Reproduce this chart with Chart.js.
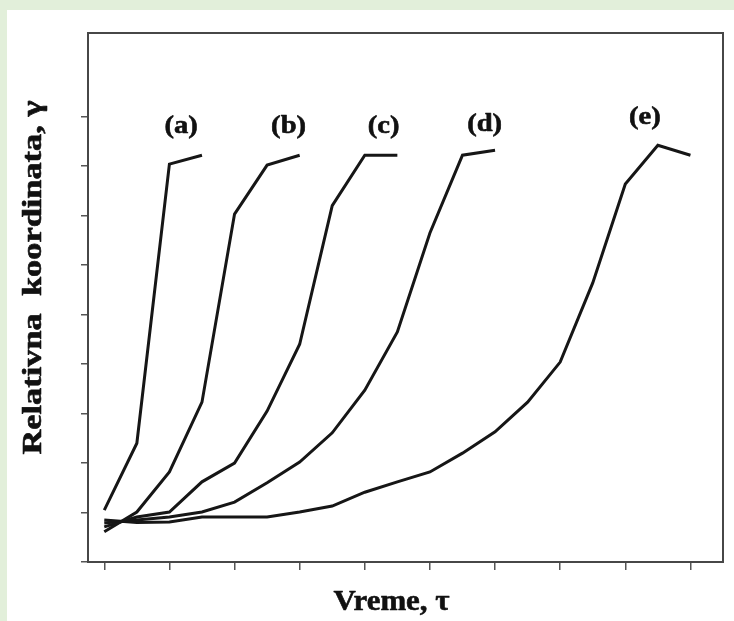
<!DOCTYPE html>
<html>
<head>
<meta charset="utf-8">
<script src="https://cdn.jsdelivr.net/npm/chart.js@4/dist/chart.umd.min.js"></script>
<style>
  html, body { margin: 0; padding: 0; background: #e2efda; width: 734px; height: 621px; overflow: hidden; }
  #panel { position: absolute; left: 7px; top: 10px; width: 727px; height: 611px; background: #ffffff; }
  canvas { display: block; }
</style>
</head>
<body>
<div id="panel"><canvas id="c" width="727" height="611"></canvas></div>
<script>
// ---- data ----
const xA = [0, 0.5, 1, 1.5];
const yA = [1.05, 2.40, 8.04, 8.22];

const xB = [0, 0.5, 1, 1.5, 2, 2.5, 3];
const yB = [0.61, 1.01, 1.82, 3.23, 7.03, 8.02, 8.22];

const xC = [0, 0.5, 1, 1.5, 2, 2.5, 3, 3.5, 4, 4.5];
const yC = [0.71, 0.91, 1.01, 1.62, 2.00, 3.05, 4.40, 7.20, 8.22, 8.22];

const xD = [0, 0.5, 1, 1.5, 2, 2.5, 3, 3.5, 4, 4.5, 5, 5.5, 6];
const yD = [0.79, 0.85, 0.91, 1.01, 1.21, 1.60, 2.02, 2.61, 3.47, 4.65, 6.65, 8.22, 8.32];

const xE = [0, 0.5, 1, 1.5, 2, 2.5, 3, 3.5, 4, 4.5, 5, 5.5, 6, 6.5, 7, 7.5, 8, 8.5, 9];
const yE = [0.85, 0.80, 0.81, 0.91, 0.91, 0.91, 1.01, 1.13, 1.41, 1.62, 1.82, 2.20, 2.63, 3.23, 4.04, 5.64, 7.64, 8.42, 8.22];

const seriesNames = ['(a)', '(b)', '(c)', '(d)', '(e)'];
const xTicks = [0, 1, 2, 3, 4, 5, 6, 7, 8, 9];
const yTicks = [0, 1, 2, 3, 4, 5, 6, 7, 8, 9];
const xTitle = 'Vreme, τ';
const yTitle = 'Relativna  koordinata, γ';

const allX = [xA, xB, xC, xD, xE];
const allY = [yA, yB, yC, yD, yE];

const datasets = allX.map((xs, i) => ({
  label: seriesNames[i],
  data: xs.map((x, j) => ({ x: x, y: allY[i][j] })),
  borderColor: '#161616',
  borderWidth: 3,
  pointRadius: 0,
  fill: false,
  tension: 0,
  borderJoinStyle: 'miter',
  borderCapStyle: 'butt'
}));

const SERIF = '"Liberation Serif", "Times New Roman", serif';

function heavyText(ctx, t) {
  ctx.fillText(t, 0, 0);
  ctx.strokeText(t, 0, 0);
}

const annotPlugin = {
  id: 'annot',
  afterDraw(chart, args, opts) {
    const { ctx, chartArea } = chart;
    const xs = chart.scales.x, ys = chart.scales.y;
    ctx.save();
    // frame
    ctx.strokeStyle = '#474747';
    ctx.lineWidth = 2;
    ctx.strokeRect(chartArea.left, chartArea.top, chartArea.right - chartArea.left, chartArea.bottom - chartArea.top);
    ctx.fillStyle = '#111111';
    ctx.strokeStyle = '#111111';
    ctx.lineWidth = 0.6;
    ctx.lineJoin = 'round';
    ctx.textAlign = 'center';
    ctx.textBaseline = 'middle';
    // series labels
    ctx.font = 'bold ' + opts.labelSize + 'px ' + SERIF;
    seriesNames.forEach((t, i) => {
      const px = xs.getPixelForValue(opts.labelAt[i][0]);
      const py = ys.getPixelForValue(opts.labelAt[i][1]);
      ctx.save();
      ctx.translate(px, py);
      ctx.scale(opts.labelStretch, 1);
      heavyText(ctx, t);
      ctx.restore();
    });
    // x title
    ctx.font = 'bold ' + opts.xTitleSize + 'px ' + SERIF;
    let w = ctx.measureText(xTitle).width;
    ctx.save();
    ctx.translate((chartArea.left + chartArea.right) / 2 + opts.xTitleDx, chartArea.bottom + opts.xTitleDy);
    ctx.scale(opts.xTitleWidth / w, 1);
    heavyText(ctx, xTitle);
    ctx.restore();
    // y title
    ctx.font = 'bold ' + opts.yTitleSize + 'px ' + SERIF;
    w = ctx.measureText(yTitle).width;
    ctx.save();
    ctx.translate(chartArea.left + opts.yTitleDx, (chartArea.top + chartArea.bottom) / 2 + opts.yTitleDy);
    ctx.rotate(-Math.PI / 2);
    ctx.scale(opts.yTitleWidth / w, 1);
    heavyText(ctx, yTitle);
    ctx.restore();
    ctx.restore();
  }
};

new Chart(document.getElementById('c'), {
  type: 'line',
  data: { datasets },
  plugins: [annotPlugin],
  options: {
    responsive: false,
    animation: false,
    layout: { padding: { left: 0, top: 23, right: 11, bottom: 0 } },
    plugins: {
      legend: { display: false },
      tooltip: { enabled: false },
      annot: {
        labelSize: 26,
        labelStretch: 1.1,
        labelAt: [[1.18, 8.80], [2.83, 8.80], [4.29, 8.80], [5.84, 8.85], [8.30, 8.98]],
        xTitleSize: 30, xTitleWidth: 116, xTitleDx: -14, xTitleDy: 40,
        yTitleSize: 27, yTitleWidth: 354, yTitleDx: -54, yTitleDy: -20
      }
    },
    scales: {
      x: {
        type: 'linear',
        min: -0.25, max: 9.5,
        afterBuildTicks: s => { s.ticks = xTicks.map(v => ({ value: v })); },
        afterFit: s => { s.height = 59; },
        ticks: { display: false },
        grid: { drawOnChartArea: false, drawTicks: true, tickLength: 8, color: '#555', lineWidth: 1.5 },
        border: { display: true, color: '#474747', width: 2 },
        title: { display: false }
      },
      y: {
        type: 'linear',
        min: 0, max: 10.69,
        afterBuildTicks: s => { s.ticks = yTicks.map(v => ({ value: v })); },
        afterFit: s => { s.width = 81; },
        ticks: { display: false },
        grid: { drawOnChartArea: false, drawTicks: true, tickLength: 7, color: '#555', lineWidth: 1.5 },
        border: { display: true, color: '#474747', width: 2 },
        title: { display: false }
      }
    }
  }
});
</script>
</body>
</html>
